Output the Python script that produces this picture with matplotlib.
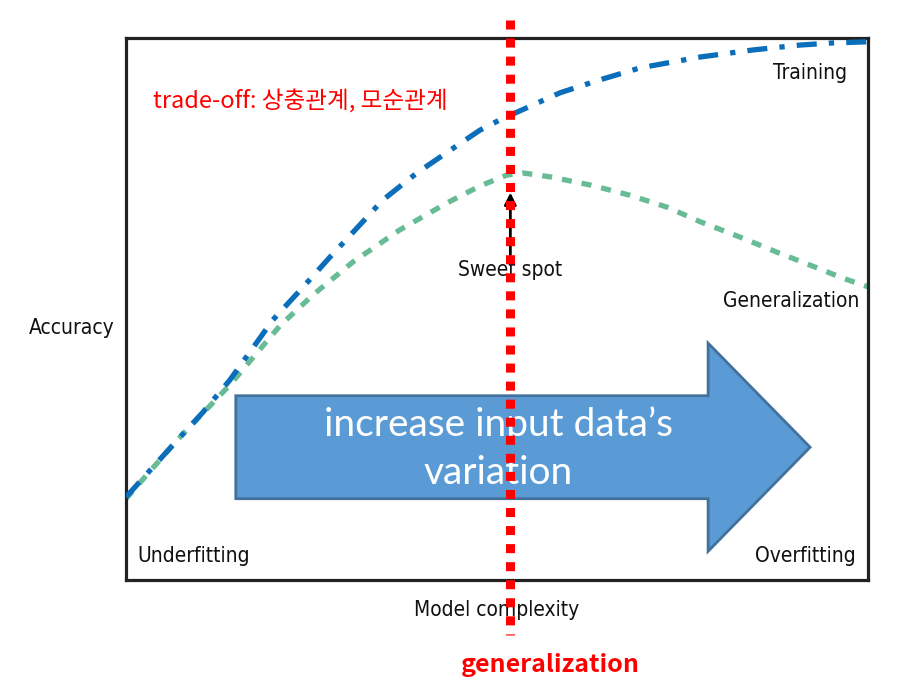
import matplotlib
matplotlib.use("Agg")
import matplotlib.pyplot as plt
from matplotlib.patches import FancyArrow

# Dane (złożoność modelu 0..10, dokładność 0..1)
train_x = [0.0, 0.69, 1.04, 1.40, 1.98, 2.39, 2.75, 3.11, 3.46, 3.92, 4.37,
           4.77, 5.04, 5.85, 6.39, 6.93, 7.74, 8.45, 9.08, 9.53, 10.0]
train_y = [0.153, 0.258, 0.310, 0.369, 0.480, 0.541, 0.596, 0.649, 0.701, 0.751, 0.793,
           0.830, 0.849, 0.899, 0.923, 0.945, 0.965, 0.978, 0.987, 0.991, 0.993]

gen_x = [0.0, 0.69, 1.40, 2.08, 2.52, 3.06, 3.69, 4.33, 4.77, 5.13, 5.35,
         5.71, 6.25, 6.79, 7.29, 7.74, 8.27, 8.77, 9.22, 9.66, 10.0]
gen_y = [0.150, 0.258, 0.360, 0.470, 0.526, 0.587, 0.646, 0.696, 0.727, 0.747, 0.751,
         0.744, 0.729, 0.710, 0.688, 0.661, 0.633, 0.605, 0.581, 0.557, 0.541]

sweet_x = 5.18
corner_labels = ["Underfitting", "Overfitting"]
arrow_lines = ["increase input data\u2019s", "variation"]

label_font = dict(family="DejaVu Sans", stretch="condensed", fontsize=15,
                  color="#111111")
kr_font = ["Noto Sans CJK KR", "DejaVu Sans"]

fig = plt.figure(figsize=(9.19, 6.79), dpi=100)
ax = fig.add_axes([0.1371, 0.1458, 0.8074, 0.7982])
ax.set_xlim(0, 10)
ax.set_ylim(0, 1)
ax.set_xticks([])
ax.set_yticks([])
for s in ax.spines.values():
    s.set_linewidth(2.3)
    s.set_color("#222222")

# krzywe
ax.plot(train_x, train_y, color="#0B6EBB", lw=3.8, ls=(0, (3.8, 2.3, 1, 2.3)),
        solid_capstyle="butt", dash_capstyle="butt", zorder=3)
ax.plot(gen_x, gen_y, color="#67BB95", lw=3.8, ls=(0, (1.9, 1.9)),
        dash_capstyle="butt", zorder=2)

# duża strzałka
arr = FancyArrow(1.48, 0.245, 7.74, 0, width=0.19, head_width=0.384,
                 head_length=1.375, length_includes_head=True,
                 facecolor="#5B9BD5", edgecolor="#41719C", lw=2, zorder=4)
ax.add_patch(arr)
ax.text(5.02, 0.287, arrow_lines[0], color="white", fontsize=28,
        family=["Lato", "DejaVu Sans"], ha="center", va="center", zorder=5)
ax.text(5.02, 0.197, arrow_lines[1], color="white", fontsize=28,
        family=["Lato", "DejaVu Sans"], ha="center", va="center", zorder=5)

# sweet spot
ax.annotate("", xy=(sweet_x, 0.72), xytext=(sweet_x, 0.595),
            arrowprops=dict(arrowstyle="-|>", color="black", lw=2,
                            mutation_scale=18), zorder=5)
ax.text(sweet_x, 0.572, "Sweet spot", ha="center", va="center", zorder=5,
        **label_font)

# etykiety
ax.text(0.972, 0.935, "Training", ha="right", va="center",
        transform=ax.transAxes, **label_font)
ax.text(0.988, 0.515, "Generalization", ha="right", va="center",
        transform=ax.transAxes, **label_font)
ax.text(0.016, 0.044, corner_labels[0], ha="left", va="center",
        transform=ax.transAxes, **label_font)
ax.text(0.984, 0.044, corner_labels[1], ha="right", va="center",
        transform=ax.transAxes, **label_font)
ax.text(-0.015, 0.465, "Accuracy", ha="right", va="center",
        transform=ax.transAxes, **label_font)
ax.text(0.5, -0.055, "Model complexity", ha="center", va="center",
        transform=ax.transAxes, **label_font)

ax.text(0.036, 0.885, "trade-off: 상충관계, 모순관계", fontsize=17,
        family=kr_font, color="red", ha="left", va="center",
        transform=ax.transAxes)

# czerwona linia pionowa
ax.plot([sweet_x, sweet_x], [1.033, -0.101], color="red", lw=6.5,
        ls=(0, (1, 1)), dash_capstyle="butt", clip_on=False, zorder=6)
fig.text(0.599, 0.020, "generalization", fontsize=18, fontweight="bold",
         family=kr_font, color="red", ha="center", va="center")

fig.savefig("out.png", dpi=100)
